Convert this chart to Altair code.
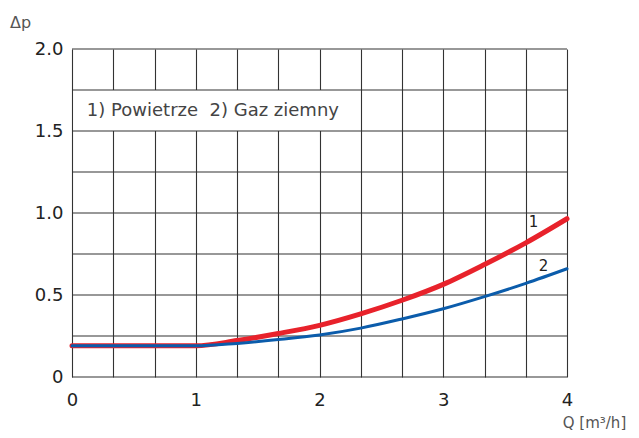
import altair as alt
import pandas as pd

# Data
q_vals = [0, 1, 1.333, 1.667, 2, 2.333, 2.667, 3, 3.333, 3.667, 4]
dp_air = [0.19, 0.19, 0.222, 0.265, 0.315, 0.385, 0.468, 0.565, 0.686, 0.818, 0.965]
dp_gas = [0.19, 0.19, 0.205, 0.228, 0.256, 0.298, 0.354, 0.416, 0.49, 0.571, 0.66]
series_names = ["1", "2"]
series_colors = ["#e8222b", "#0b5cab"]
x_grid = [i / 3 for i in range(13)]
y_grid = [i * 0.25 for i in range(9)]
y_ticks = [0, 0.5, 1.0, 1.5, 2.0]
legend_text = "1) Powietrze\u00a0\u00a02) Gaz ziemny"

FONT = "DejaVu Sans"
GRID = "#333333"

curves = pd.DataFrame(
    {"Q": q_vals * 2,
     "dp": dp_air + dp_gas,
     "s": [series_names[0]] * len(q_vals) + [series_names[1]] * len(q_vals)}
)

xs = alt.Scale(domain=[0, 4], nice=False, zero=False)
ys = alt.Scale(domain=[0, 2], nice=False, zero=False)

x_axis = alt.Axis(
    values=x_grid, grid=True, gridColor=GRID, gridWidth=1.1, gridOpacity=1,
    domain=False, ticks=False,
    labelExpr="abs(datum.value - round(datum.value)) < 0.01 ? format(round(datum.value), 'd') : ''",
    labelFont=FONT, labelFontSize=18, labelColor="#222", labelPadding=14,
    labelAlign="center", labelBaseline="top",
    title="Q [m³/h]", titleFont=FONT, titleFontSize=15, titleFontWeight="normal",
    titleColor="#555", titleX=522, titleY=45, titleAlign="center", titleBaseline="middle",
)
y_axis = alt.Axis(
    values=y_ticks, grid=False, domain=False, ticks=False,
    labelExpr="datum.value == 0 ? '0' : format(datum.value, '.1f')",
    labelFont=FONT, labelFontSize=18, labelColor="#222", labelPadding=9,
    labelBaseline="middle",
    title="Δp", titleFont=FONT, titleFontSize=16, titleFontWeight="normal",
    titleColor="#555", titleAngle=0, titleX=-52, titleY=-27,
    titleAlign="center", titleBaseline="middle",
)

base_grid = alt.Chart(pd.DataFrame({"v": x_grid})).mark_rule(opacity=0).encode(
    x=alt.X("v:Q", scale=xs, axis=x_axis),
    y=alt.Y("zero:Q", scale=ys, axis=y_axis),
).transform_calculate(zero="0")

box = alt.Chart(pd.DataFrame({"x0": [0.012], "x1": [7 / 3 - 0.012], "y0": [1.5], "y1": [1.75]})).mark_rect(
    color="white"
).encode(
    x=alt.X("x0:Q", scale=xs), x2="x1:Q",
    y=alt.Y("y0:Q", scale=ys), y2="y1:Q",
)

hrules = alt.Chart(pd.DataFrame({"y": y_grid})).mark_rule(color=GRID, strokeWidth=1.1).encode(
    y=alt.Y("y:Q", scale=ys)
)

lines = alt.Chart(curves).mark_line(interpolate="monotone", strokeCap="round").encode(
    x=alt.X("Q:Q", scale=xs),
    y=alt.Y("dp:Q", scale=ys),
    color=alt.Color("s:N", scale=alt.Scale(domain=series_names, range=series_colors), legend=None),
    strokeWidth=alt.StrokeWidth("s:N", scale=alt.Scale(domain=series_names, range=[5, 3]), legend=None),
    order=alt.Order("s:N", sort="descending"),
)

legend = alt.Chart(pd.DataFrame({"x": [0.12], "y": [1.625], "t": [legend_text]})).mark_text(
    align="left", baseline="middle", font=FONT, fontSize=18, color="#444"
).encode(x=alt.X("x:Q", scale=xs), y=alt.Y("y:Q", scale=ys), text="t:N")

labels = alt.Chart(pd.DataFrame({"x": [3.73, 3.81], "y": [0.944, 0.676], "t": series_names})).mark_text(
    align="center", baseline="middle", font=FONT, fontSize=15, color="#222"
).encode(x=alt.X("x:Q", scale=xs), y=alt.Y("y:Q", scale=ys), text="t:N")

chart = alt.layer(base_grid, box, hrules, lines, legend, labels).properties(
    width=495, height=328,
    autosize=alt.AutoSizeParams(type="none"),
    padding={"left": 64, "top": 41, "right": 64, "bottom": 53},
).configure_view(strokeWidth=0)

chart.save("out.html", embed_options={"renderer": "svg", "actions": False})
